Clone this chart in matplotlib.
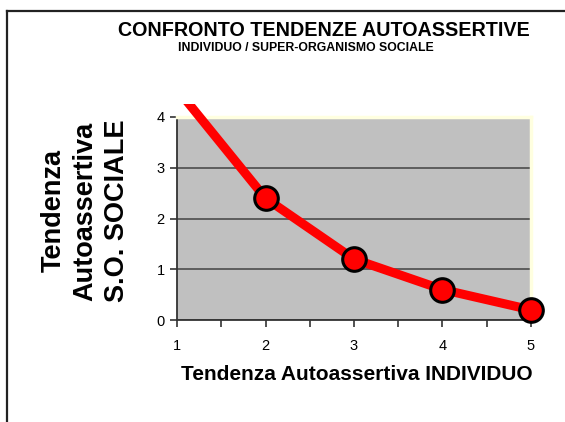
import matplotlib
matplotlib.use("Agg")
import matplotlib.pyplot as plt
from matplotlib.lines import Line2D
from matplotlib.patches import Rectangle
from matplotlib.ticker import MultipleLocator

plt.rcParams['font.family'] = ['Liberation Sans', 'DejaVu Sans']

x_vals = [1, 2, 3, 4, 5]
y_vals = [4.55, 2.4, 1.2, 0.6, 0.2]
title = "CONFRONTO TENDENZE AUTOASSERTIVE"
subtitle = "INDIVIDUO / SUPER-ORGANISMO SOCIALE"
xlabel = "Tendenza Autoassertiva INDIVIDUO"
ylabel = "Tendenza\nAutoassertiva\nS.O. SOCIALE"
y_ticks = [0, 1, 2, 3, 4]
x_ticks = [1, 2, 3, 4, 5]

W, H = 565, 422
fig = plt.figure(figsize=(W / 100, H / 100), dpi=100)
fig.patch.set_facecolor('white')

def fx(px):
    return px / W

def fy(py):
    return 1 - py / H

ax = fig.add_axes([fx(177), fy(320), fx(531) - fx(177), fy(117) - fy(320)])
ax.set_facecolor('#C0C0C0')
ax.set_xlim(1, 5)
ax.set_ylim(0, 4)
ax.set_yticks(y_ticks)
ax.set_xticks(x_ticks)
ax.xaxis.set_minor_locator(MultipleLocator(0.5))
ax.tick_params(axis='both', which='both', direction='out', color='#333333', width=1.2, length=5)
ax.tick_params(axis='y', labelsize=10.5, pad=4)
ax.tick_params(axis='x', labelsize=10.5, pad=9)
ax.tick_params(axis='x', which='minor', length=5)
ax.yaxis.grid(True, color='#555555', linewidth=1.3)
ax.set_axisbelow(True)
for s in ['top', 'right']:
    ax.spines[s].set_color('#FFFFE0')
    ax.spines[s].set_linewidth(2.5)
for s in ['left', 'bottom']:
    ax.spines[s].set_color('#333333')
    ax.spines[s].set_linewidth(1.3)

line, = ax.plot(x_vals, y_vals, color='#FF0000', linewidth=6.5, marker='o',
                markersize=17, markerfacecolor='#FF0000', markeredgecolor='black',
                markeredgewidth=2.2, zorder=5, solid_capstyle='butt')
clip_rect = Rectangle((-0.1, -0.2), 1.3, 0.2 + 4.26 / 4, transform=ax.transAxes,
                      facecolor='none', edgecolor='none')
line.set_clip_path(clip_rect)
line.set_clip_on(True)

fig.text(fx(85), fy(211), ylabel, rotation=90, ha='center', va='center',
         fontsize=19.5, fontweight='bold', linespacing=1.28, multialignment='center')
fig.text(fx(357), fy(375), xlabel, ha='center', va='center', fontsize=15, fontweight='bold')
fig.text(fx(323.5), fy(31), title, ha='center', va='center', fontsize=14.2, fontweight='bold')
fig.text(fx(306), fy(48), subtitle, ha='center', va='center', fontsize=8.8, fontweight='bold')

fig.add_artist(Line2D([fx(7), fx(7)], [fy(11), 0], color='#222222', linewidth=1.6))
fig.add_artist(Line2D([fx(7), 1], [fy(11), fy(11)], color='#222222', linewidth=1.6))

fig.savefig('out.png', dpi=100)
